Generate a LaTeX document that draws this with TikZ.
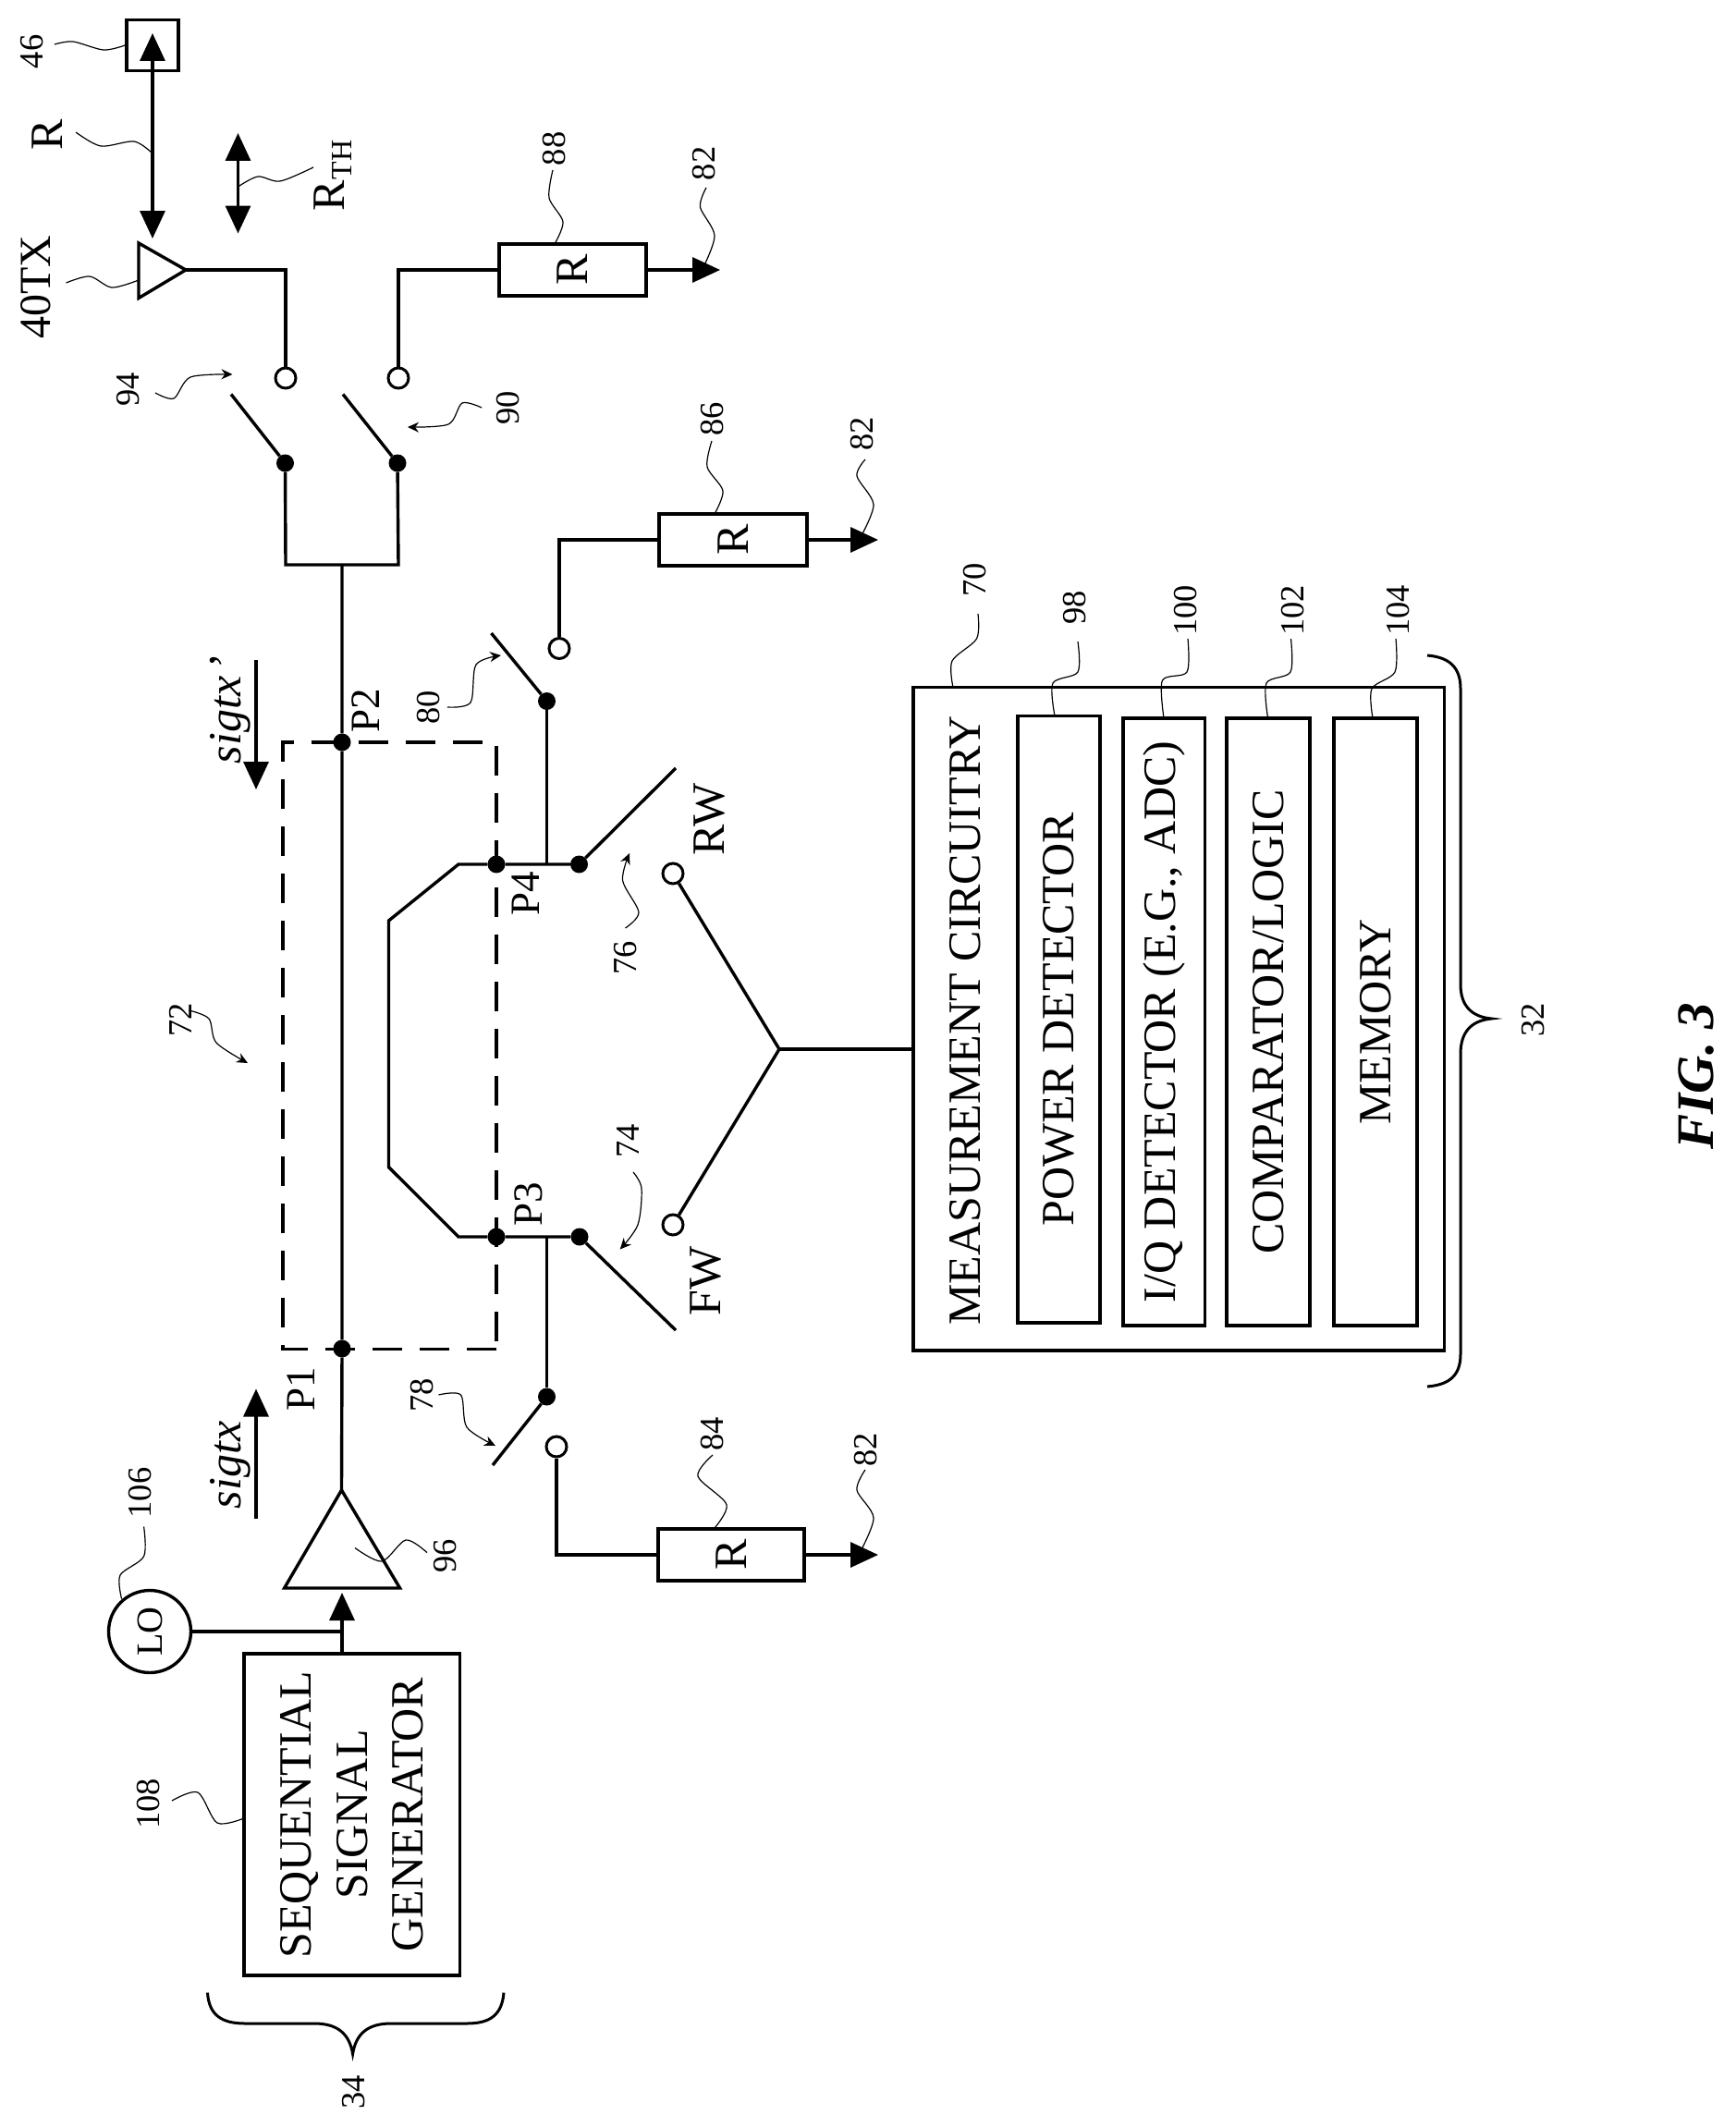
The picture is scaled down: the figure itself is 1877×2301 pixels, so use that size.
\documentclass[tikz,border=0pt]{standalone}
\usepackage{fontspec}
\setmainfont{Liberation Serif}
\usetikzlibrary{arrows.meta}
\tikzset{
  wire/.style={line width=3.4pt,line join=miter},
  bigtip/.style={-{Triangle[length=30pt,width=27pt]}},
  bothtip/.style={{Triangle[length=30pt,width=27pt]}-{Triangle[length=30pt,width=27pt]}},
  leader/.style={line width=1.2pt},
  leadtip/.style={line width=1.2pt,-{Stealth[length=12pt,width=11pt]}},
  numlabel/.style={rotate=90,inner sep=0pt,font=\fontsize{36.5}{40}\selectfont},
  biglabel/.style={rotate=90,inner sep=0pt,font=\fontsize{50}{60.5}\selectfont,align=center},
  plabel/.style={rotate=90,inner sep=0pt,font=\fontsize{45}{50}\selectfont},
  itlabel/.style={rotate=90,inner sep=0pt,font=\fontsize{50}{55}\selectfont\itshape},
  dotnode/.style={circle,fill=black,inner sep=0pt,minimum size=19pt},
  termnode/.style={circle,draw=black,fill=white,line width=3pt,inner sep=0pt,minimum size=22pt},
  boxnode/.style={rotate=90,draw=black,line width=3.4pt,inner sep=0pt,font=\fontsize{50}{60.5}\selectfont,align=center},
}
\begin{document}
\begin{tikzpicture}[x=1pt,y=-1pt]
\useasboundingbox (0,0) rectangle (1877,2301);

% ---- top: reflector and antenna
\node[draw=black,line width=3.4pt,minimum width=56pt,minimum height=55pt,inner sep=0pt] (b46) at (165,49) {};
\coordinate (rtop) at (165,36);
\coordinate (rbot) at (165,258);
\draw[wire,bothtip] (rtop) -- (rbot);
\coordinate (rthtop) at (257.5,144);
\coordinate (rthbot) at (257.5,252.5);
\draw[wire,bothtip] (rthtop) -- (rthbot);
\coordinate (anta) at (150,263);
\coordinate (antb) at (150,322.5);
\coordinate (antc) at (201,292);
\draw[wire,line join=miter] (anta) -- (antc) -- (antb) -- cycle;

% ---- switch terminals and dots
\node[termnode] (t94) at (309,409) {};
\node[termnode] (t90) at (431,409) {};
\node[dotnode] (d94) at (308.5,501) {};
\node[dotnode] (d90) at (430,501) {};
\coordinate (b94) at (250,426.5);
\coordinate (b90) at (371,426.5);
\draw[wire] (d94) -- (b94);
\draw[wire] (d90) -- (b90);
\coordinate (c94) at (309,292);
\coordinate (c90) at (431,292);
\draw[wire] (antc) -- (c94) -- (t94);
\node[boxnode,minimum width=56pt,minimum height=159pt] (r88) at (619.5,292) {R};
\draw[wire] (t90) -- (c90) -- (r88.north);
\coordinate (g88) at (779,292);
\draw[wire,bigtip] (r88.south) -- (g88);

\coordinate (fl) at (309,611);
\coordinate (fr) at (431,611);
\coordinate (fm) at (370,611);
\draw[wire] (d94) -- (fl) -- (fr) -- (d90);

% ---- main line
\node[dotnode] (p2) at (370,803) {};
\node[dotnode] (p1) at (370,1459) {};
\coordinate (ampa) at (369.5,1612);
\coordinate (ampb) at (307.6,1718);
\coordinate (ampc) at (432.6,1718);
\draw[wire] (fm) -- (p2) -- (p1) -- (ampa);
\draw[wire] (ampa) -- (ampb) -- (ampc) -- cycle;

% ---- coupler
\coordinate (dbr) at (537,1459.5);
\coordinate (dbl) at (306,1459.5);
\coordinate (dtl) at (306,803);
\coordinate (dtr) at (537,803);
\draw[line width=3.2pt,dash pattern=on 32pt off 19pt] (dbr) -- (dbl) -- (dtl) -- (dtr) -- cycle;

\node[dotnode] (p4) at (537,935) {};
\node[dotnode] (p3) at (537,1338) {};
\coordinate (q1) at (496,935);
\coordinate (q2) at (420.5,996);
\coordinate (q3) at (420.5,1262.6);
\coordinate (q4) at (496,1338);
\node[dotnode] (d76) at (626.5,935) {};
\node[dotnode] (d74) at (627,1338) {};
\draw[wire] (d76) -- (p4) -- (q1) -- (q2) -- (q3) -- (q4) -- (p3) -- (d74);
\coordinate (b76) at (731,831);
\coordinate (b74) at (731,1439);
\draw[wire] (d76) -- (b76);
\draw[wire] (d74) -- (b74);

% ---- isolation switches
\coordinate (j4) at (591.5,935);
\coordinate (j3) at (591.5,1338);
\node[dotnode] (d80) at (591.5,758.5) {};
\node[dotnode] (d78) at (591.5,1511) {};
\draw[wire] (j4) -- (d80);
\draw[wire] (j3) -- (d78);
\coordinate (b80) at (531.5,685);
\coordinate (b78) at (533,1585);
\draw[wire] (d80) -- (b80);
\draw[wire] (d78) -- (b78);
\node[termnode] (t80) at (605,701.5) {};
\node[termnode] (t78) at (602,1565) {};
\node[boxnode,minimum width=56pt,minimum height=160pt] (r86) at (793,584) {R};
\node[boxnode,minimum width=56pt,minimum height=158pt] (r84) at (791,1682) {R};
\coordinate (c80) at (605,584);
\coordinate (c78) at (602,1682);
\draw[wire] (t80) -- (c80) -- (r86.north);
\draw[wire] (t78) -- (c78) -- (r84.north);
\coordinate (g86) at (950,584);
\coordinate (g84) at (950,1682);
\draw[wire,bigtip] (r86.south) -- (g86);
\draw[wire,bigtip] (r84.south) -- (g84);

% ---- measurement
\node[termnode] (t76) at (728,945) {};
\node[termnode] (t74) at (728,1325) {};
\coordinate (yj) at (843,1135);
\draw[wire] (t76) -- (yj) -- (t74);
\node[boxnode,minimum width=717.5pt,minimum height=574.5pt] (mc) at (1275.2,1102.3) {};
\coordinate (mcin) at (988,1135);
\draw[wire] (yj) -- (mcin);
\node[biglabel] (mct) at (1044,1104) {MEASUREMENT CIRCUITRY};
\node[boxnode,minimum width=656.5pt,minimum height=89pt] (pd) at (1145.4,1102.8) {POWER DETECTOR};
\node[boxnode,minimum width=657pt,minimum height=88.6pt] (iq) at (1259.3,1105.5) {I/Q DETECTOR (E.G., ADC)};
\node[boxnode,minimum width=657pt,minimum height=90pt] (cl) at (1372,1105.5) {COMPARATOR/LOGIC};
\node[boxnode,minimum width=657pt,minimum height=90pt] (me) at (1488,1105.5) {MEMORY};

% ---- source
\node[circle,draw=black,line width=3.4pt,minimum size=89pt,inner sep=0pt,rotate=90,font=\fontsize{40}{44}\selectfont] (lo) at (162,1765) {LO};
\node[boxnode,minimum width=348pt,minimum height=233.5pt] (ssg) at (380.7,1963) {SEQUENTIAL\\SIGNAL\\GENERATOR};
\coordinate (ampin) at (370,1723);
\coordinate (ssgout) at (370,1789);
\coordinate (loj) at (370,1765);
\draw[wire,bigtip] (ssgout) -- (ampin);
\draw[wire] (lo) -- (loj);

% ---- signal arrows
\coordinate (sa1) at (277,714);
\coordinate (sa2) at (277,854);
\draw[wire,bigtip] (sa1) -- (sa2);
\coordinate (sb1) at (277,1643);
\coordinate (sb2) at (277,1502.5);
\draw[wire,bigtip] (sb1) -- (sb2);

% ---- braces
\draw[line width=3pt] (224.5,2155.6) .. controls (226,2180) and (240,2189) .. (265,2189) -- (340,2189) .. controls (365,2189) and (378,2200) .. (381.6,2222) .. controls (385,2200) and (398,2189) .. (423,2189) -- (505,2189) .. controls (530,2189) and (543,2180) .. (545,2155.6);
\draw[line width=3pt] (1544,709) .. controls (1568,711) and (1580,722) .. (1580,745) -- (1580,1065) .. controls (1580,1088) and (1592,1100) .. (1613.5,1102) .. controls (1592,1104) and (1580,1116) .. (1580,1140) -- (1580,1465) .. controls (1580,1488) and (1568,1498) .. (1544,1500);

% ---- labels
\node[numlabel] (n46) at (35,56) {46};
\node[biglabel] (lr) at (51.5,146) {R};
\node[biglabel,font=\fontsize{48}{52}\selectfont] (l40) at (39,311) {40TX};
\node[biglabel] (lrth) at (360,190) {R\kern1pt\raisebox{-8pt}{\fontsize{32}{34}\selectfont TH}};
\node[numlabel] (n88) at (600,161) {88};
\node[numlabel] (n82a) at (762,177) {82};
\node[numlabel] (n94) at (139,421) {94};
\node[numlabel] (n90) at (550,441) {90};
\node[numlabel] (n86) at (771,453) {86};
\node[numlabel] (n82b) at (933,469) {82};
\node[numlabel] (n80) at (464,765) {80};
\node[numlabel] (n72) at (195,1103) {72};
\node[numlabel] (n76) at (676.5,1036) {76};
\node[numlabel] (n74) at (679,1234) {74};
\node[numlabel] (n78) at (456.6,1509) {78};
\node[numlabel] (n84) at (771,1551) {84};
\node[numlabel] (n82c) at (936.5,1568) {82};
\node[numlabel] (n70) at (1055,627) {70};
\node[numlabel] (n98) at (1163,657.6) {98};
\node[numlabel] (n100) at (1283,660.6) {100};
\node[numlabel] (n102) at (1399,660.6) {102};
\node[numlabel] (n104) at (1513,660.6) {104};
\node[numlabel] (n32) at (1658.5,1103) {32};
\node[numlabel] (n106) at (152,1615) {106};
\node[numlabel] (n108) at (161,1951.5) {108};
\node[numlabel] (n96) at (482,1683) {96};
\node[numlabel] (n34) at (382.6,2263) {34};
\node[plabel] (pp2) at (396,769) {P2};
\node[plabel] (pp1) at (326,1502.5) {P1};
\node[plabel] (pp4) at (568.5,967) {P4};
\node[plabel] (pp3) at (572,1303) {P3};
\node[biglabel] (lrw) at (767,886.6) {RW};
\node[biglabel] (lfw) at (763.7,1386) {FW};
\node[itlabel] (st1) at (249,768) {sigtx\kern5pt'};
\node[itlabel] (st2) at (249,1585) {sigtx};
\node[rotate=90,inner sep=0pt,font=\fontsize{57}{60}\selectfont\bfseries\itshape] (fig) at (1835,1164) {FIG. 3};

% ---- leaders
\coordinate (l46) at (59,48);   \draw[leader] plot[smooth] coordinates {(l46) (79,45) (112,54) (b46.west)};
\coordinate (lr1) at (82,143);  \coordinate (lr2) at (165,166);  \draw[leader] plot[smooth] coordinates {(lr1) (109,158) (145,153) (lr2)};
\coordinate (lt1) at (339,181); \coordinate (lt2) at (257.5,202);\draw[leader] plot[smooth] coordinates {(lt1) (303,196) (279,191) (lt2)};
\coordinate (la1) at (71.5,306);\coordinate (la2) at (150,303);  \draw[leader] plot[smooth] coordinates {(la1) (97,299) (121,311) (la2)};
\coordinate (l88) at (598,184); \coordinate (e88) at (600,264);  \draw[leader] plot[smooth] coordinates {(l88) (594,214) (609,240) (e88)};
\coordinate (l82a) at (764,203);\coordinate (e82a) at (760,291); \draw[leader] plot[smooth] coordinates {(l82a) (757.5,224) (773,255) (e82a)};
\coordinate (l86) at (770,477); \coordinate (e86) at (773,556);  \draw[leader] plot[smooth] coordinates {(l86) (765,505) (782,531) (e86)};
\coordinate (l82b) at (936,497);\coordinate (e82b) at (930,583); \draw[leader] plot[smooth] coordinates {(l82b) (927,515) (945,546) (e82b)};
\coordinate (l94) at (168,425); \coordinate (e94) at (251.5,405);\draw[leadtip] plot[smooth] coordinates {(l94) (188,431) (206,408) (e94)};
\coordinate (l90) at (521,441); \coordinate (e90) at (441,462);  \draw[leadtip] plot[smooth] coordinates {(l90) (500,436) (485,459) (e90)};
\coordinate (l80) at (484,765); \coordinate (e80) at (542,709);  \draw[leadtip] plot[smooth] coordinates {(l80) (509,760) (515,719) (e80)};
\coordinate (l72) at (204.6,1093);\coordinate (e72) at (268,1150);\draw[leadtip] plot[smooth] coordinates {(l72) (226,1102) (234,1128) (e72)};
\coordinate (l76) at (676.5,1004);\coordinate (e76) at (681,923);\draw[leadtip] plot[smooth] coordinates {(l76) (691,987) (673.6,952.6) (e76)};
\coordinate (l74) at (685,1268);\coordinate (e74) at (670.7,1351.5);\draw[leadtip] plot[smooth] coordinates {(l74) (694,1285.5) (690,1325) (e74)};
\coordinate (l78) at (474.4,1509);\coordinate (e78) at (536,1564);\draw[leadtip] plot[smooth] coordinates {(l78) (498.5,1509) (505,1544) (e78)};
\coordinate (l70) at (1058,664); \coordinate (e70) at (1031,743.6);\draw[leader] plot[smooth] coordinates {(l70) (1056.5,691) (1030,715) (e70)};
\coordinate (l98) at (1166,694); \coordinate (e98) at (1141,774.5);\draw[leader] plot[smooth] coordinates {(l98) (1166,727) (1139,739) (e98)};
\coordinate (l100) at (1285,691);\coordinate (e100) at (1259,777);\draw[leader] plot[smooth] coordinates {(l100) (1284,727) (1257.5,736) (e100)};
\coordinate (l102) at (1396.5,691);\coordinate (e102) at (1371.6,777);\draw[leader] plot[smooth] coordinates {(l102) (1396,727) (1370,739) (e102)};
\coordinate (l104) at (1510,691);\coordinate (e104) at (1485,777);\draw[leader] plot[smooth] coordinates {(l104) (1509,727) (1484,745) (e104)};
\coordinate (l106) at (155.6,1651.5);\coordinate (e106) at (131.6,1729.6);\draw[leader] plot[smooth] coordinates {(l106) (155.6,1683.7) (130,1704) (e106)};
\coordinate (l108) at (186,1948);\coordinate (e108) at (264,1967);\draw[leader] plot[smooth] coordinates {(l108) (214,1939) (235,1972) (e108)};
\coordinate (l96) at (462,1679.6);\coordinate (e96) at (384,1674.5);\draw[leader] plot[smooth] coordinates {(l96) (439,1666) (413,1689) (e96)};
\coordinate (l84) at (771,1574); \coordinate (e84) at (773,1653);\draw[leader] plot[smooth] coordinates {(l84) (755,1597) (786,1627.5) (e84)};
\coordinate (l82c) at (936,1590);\coordinate (e82c) at (930,1680);\draw[leader] plot[smooth] coordinates {(l82c) (927,1612) (945,1642) (e82c)};
\end{tikzpicture}
\end{document}
